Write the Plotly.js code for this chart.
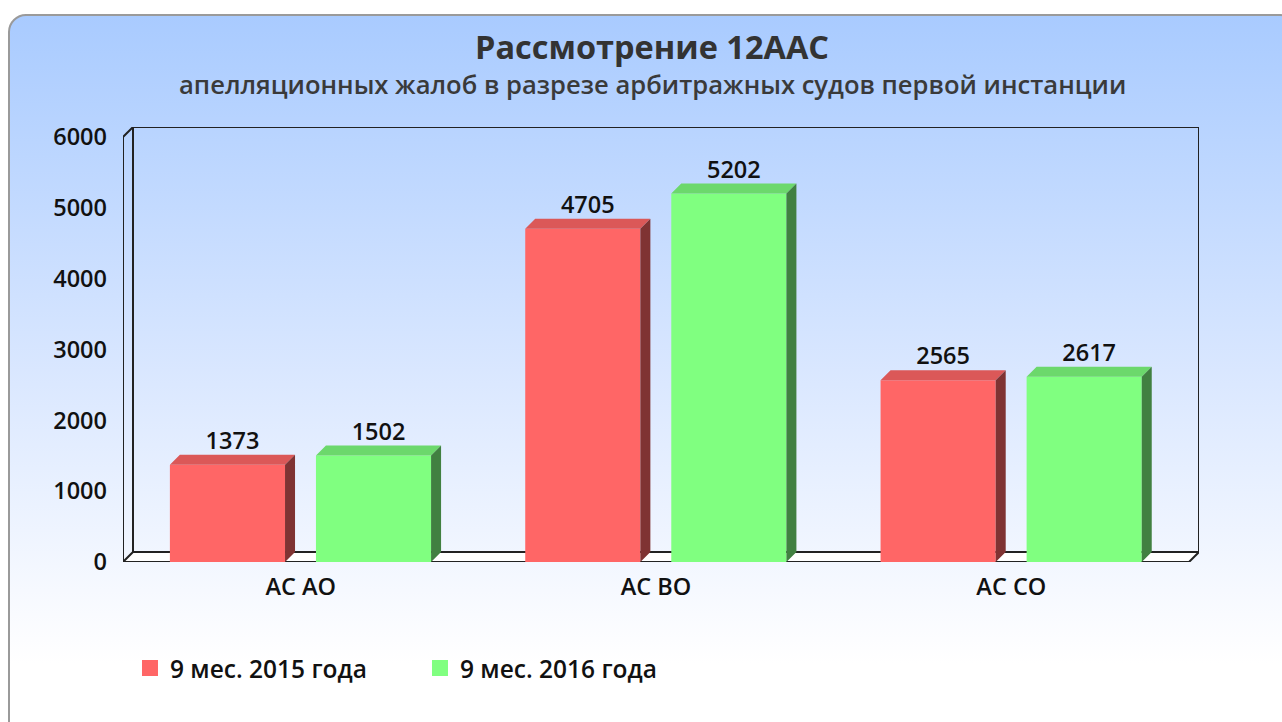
<!DOCTYPE html>
<html>
<head>
<meta charset="utf-8">
<script src="https://cdn.plot.ly/plotly-3.0.1.min.js"></script>
<style>
  html, body { margin: 0; padding: 0; width: 1282px; height: 722px; overflow: hidden; background: #ffffff; }
  #frame {
    position: absolute; left: 8px; top: 14px; width: 1290px; height: 740px;
    border: 2px solid #9a9a9a; border-radius: 18px; box-sizing: border-box;
    background: linear-gradient(to bottom, #a9cbff 0%, #dbe8ff 50%, #f6f9ff 78%, #ffffff 88%, #ffffff 100%);
  }
  #chart { position: absolute; left: 0; top: 0; width: 1282px; height: 722px; }
</style>
</head>
<body>
<div id="frame"></div>
<div id="chart"></div>
<script>
// ---- data ----
const categories = ['АС АО', 'АС ВО', 'АС СО'];
const values2015 = [1373, 4705, 2565];
const values2016 = [1502, 5202, 2617];
const seriesNames = ['9 мес. 2015 года', '9 мес. 2016 года'];
const yTickValues = [0, 1000, 2000, 3000, 4000, 5000, 6000];
const chartTitle = 'Рассмотрение 12ААС';
const chartSubtitle = 'апелляционных жалоб в разрезе арбитражных судов первой инстанции';

// ---- geometry / styles ----
const W = 1282, H = 722;
const M = { l: 123, r: 83, t: 127, b: 160 };
const plotW = W - M.l - M.r, plotH = H - M.t - M.b;
const DEPTH_PX = 10;
const YMAX = 6000;
const DX = DEPTH_PX * 3 / (plotW - DEPTH_PX);
const DY = DEPTH_PX * YMAX / (plotH - DEPTH_PX);
const BAR_W = 0.324;
const OFFSETS = [-0.368, 0.043];
const FRONT = ['#ff6666', '#80ff80'];
const TOP = ['#db5858', '#6cd86c'];
const SIDE = ['#7f3333', '#418041'];
const FONT = 'Open Sans, DejaVu Sans, sans-serif';
const LABEL_SIZE = 23.5;
const series = [values2015, values2016];
const xs = categories.map((c, i) => i);

const traces = [];
series.forEach((vals, s) => {
  traces.push({
    type: 'bar', name: seriesNames[s], x: xs, y: vals,
    width: BAR_W, offset: OFFSETS[s],
    marker: { color: FRONT[s], line: { width: 0 } },
    showlegend: false, legendgroup: 'g' + s,
    hoverinfo: 'y', cliponaxis: false
  });
});
series.forEach((vals, s) => {
  const tx = [], ty = [], sx = [], sy = [], lx = [], ly = [], lt = [];
  vals.forEach((v, i) => {
    const x0 = xs[i] + OFFSETS[s], x1 = x0 + BAR_W;
    tx.push(x0, x1, x1 + DX, x0 + DX, x0, null);
    ty.push(v, v, v + DY, v + DY, v, null);
    sx.push(x1, x1, x1 + DX, x1 + DX, x1, null);
    sy.push(0, v, v + DY, DY, 0, null);
    lx.push((x0 + x1 + DX) / 2); ly.push(v + DY); lt.push(String(v));
  });
  traces.push({ type: 'scatter', mode: 'lines', x: tx, y: ty, fill: 'toself', fillcolor: TOP[s],
    line: { width: 0, color: TOP[s] }, showlegend: false, hoverinfo: 'skip', cliponaxis: false });
  traces.push({ type: 'scatter', mode: 'lines', x: sx, y: sy, fill: 'toself', fillcolor: SIDE[s],
    line: { width: 0, color: SIDE[s] }, showlegend: false, hoverinfo: 'skip', cliponaxis: false });
  traces.push({ type: 'scatter', mode: 'text', x: lx, y: ly, text: lt, textposition: 'top center',
    textfont: { family: FONT, size: LABEL_SIZE, color: '#111111', weight: 600 },
    showlegend: false, hoverinfo: 'skip', cliponaxis: false });
});
// legend entries (square swatches) for the two series
series.forEach((vals, s) => {
  traces.push({ type: 'scatter', mode: 'markers', name: seriesNames[s], x: [null], y: [null],
    legendgroup: 'g' + s,
    marker: { symbol: 'square', size: 16, color: FRONT[s], line: { width: 0 } }, hoverinfo: 'skip' });
});

// frame (walls/floor) lines
const xL = -0.5, xR = categories.length - 0.5;
const lineStyle = { color: '#222222', width: 2 };
const shapes = [
  { type: 'path', layer: 'below', xref: 'x', yref: 'y',
    path: `M${xL},0 L${xR},0 L${xR + DX},${DY} L${xL + DX},${DY} Z`, fillcolor: '#ffffff', line: { width: 0 } },
  { type: 'rect', layer: 'below', xref: 'x', yref: 'y', x0: xL + DX, x1: xR + DX, y0: DY, y1: YMAX + DY, line: lineStyle },
  { type: 'line', layer: 'below', xref: 'x', yref: 'y', x0: xL, x1: xL, y0: 0, y1: YMAX, line: lineStyle },
  { type: 'line', layer: 'below', xref: 'x', yref: 'y', x0: xL, x1: xL + DX, y0: YMAX, y1: YMAX + DY, line: lineStyle },
  { type: 'line', layer: 'below', xref: 'x', yref: 'y', x0: xL, x1: xR, y0: 0, y1: 0, line: lineStyle },
  { type: 'line', layer: 'below', xref: 'x', yref: 'y', x0: xL, x1: xL + DX, y0: 0, y1: DY, line: lineStyle },
  { type: 'line', layer: 'below', xref: 'x', yref: 'y', x0: xR, x1: xR + DX, y0: 0, y1: DY, line: lineStyle }
];

const layout = {
  width: W, height: H,
  margin: M,
  paper_bgcolor: 'rgba(0,0,0,0)', plot_bgcolor: 'rgba(0,0,0,0)',
  barmode: 'overlay',
  showlegend: true,
  font: { family: FONT, color: '#111111' },
  xaxis: {
    range: [xL, xR + DX], tickvals: xs, ticktext: categories,
    showgrid: false, zeroline: false, showline: false, ticks: '',
    ticklabelstandoff: 8,
    tickfont: { family: FONT, size: LABEL_SIZE, color: '#111111', weight: 600 }
  },
  yaxis: {
    range: [0, YMAX + DY], tickvals: yTickValues,
    showgrid: false, zeroline: false, showline: false, ticks: '',
    ticklabelstandoff: 15,
    tickfont: { family: FONT, size: LABEL_SIZE, color: '#111111', weight: 600 }
  },
  legend: {
    orientation: 'h', x: 0.0065, xanchor: 'left', y: -0.244, yanchor: 'middle',
    entrywidth: 245, entrywidthmode: 'pixels', itemsizing: 'trace',
    font: { family: FONT, size: 24.5, color: '#111111', weight: 600 },
    bgcolor: 'rgba(0,0,0,0)'
  },
  shapes: shapes,
  annotations: [
    { text: chartTitle, xref: 'paper', yref: 'paper', x: (652 - M.l) / plotW, y: 1 + (127 - 46) / plotH,
      xanchor: 'center', yanchor: 'middle', showarrow: false,
      font: { family: FONT, size: 32.5, color: '#333333', weight: 700 } },
    { text: chartSubtitle, xref: 'paper', yref: 'paper', x: (652 - M.l) / plotW, y: 1 + (127 - 84) / plotH,
      xanchor: 'center', yanchor: 'middle', showarrow: false,
      font: { family: FONT, size: 25.6, color: '#3a3a3a', weight: 600 } }
  ]
};

Plotly.newPlot('chart', traces, layout, { displayModeBar: false, staticPlot: true });
</script>
</body>
</html>
